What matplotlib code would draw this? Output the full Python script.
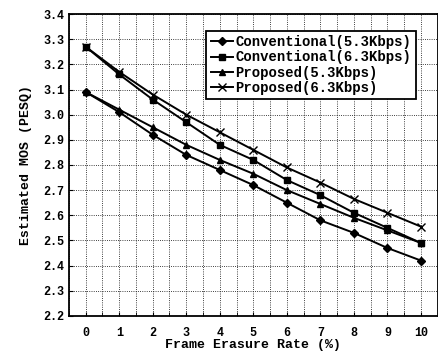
import numpy as np
import matplotlib
matplotlib.use("Agg")
import matplotlib.pyplot as plt
from matplotlib.ticker import MultipleLocator, FormatStrFormatter

# frame erasure rate (%)
fer = [0, 1, 2, 3, 4, 5, 6, 7, 8, 9, 10]

conv_53 = [3.09, 3.01, 2.92, 2.84, 2.78, 2.72, 2.65, 2.58, 2.53, 2.47, 2.42]
conv_63 = [3.27, 3.16, 3.06, 2.97, 2.88, 2.82, 2.74, 2.68, 2.61, 2.55, 2.49]
prop_53 = [3.09, 3.02, 2.95, 2.88, 2.82, 2.765, 2.70, 2.645, 2.59, 2.54, 2.49]
prop_63 = [3.27, 3.17, 3.08, 3.00, 2.93, 2.86, 2.79, 2.73, 2.665, 2.61, 2.555]

labels = ["Conventional(5.3Kbps)", "Conventional(6.3Kbps)",
          "Proposed(5.3Kbps)", "Proposed(6.3Kbps)"]

plt.rcParams['font.family'] = ['Liberation Mono', 'DejaVu Sans Mono']

fig = plt.figure(figsize=(4.39, 3.51), dpi=100)
ax = fig.add_axes([0.157, 0.100, 0.840, 0.860])

ax.plot(fer, conv_53, color='black', lw=1.4, marker='D', ms=4, label=labels[0])
ax.plot(fer, conv_63, color='black', lw=1.4, marker='s', ms=4.5, label=labels[1])
ax.plot(fer, prop_53, color='black', lw=1.4, marker='^', ms=4.5, label=labels[2])
ax.plot(fer, prop_63, color='black', lw=1.4, marker='x', ms=6, mew=1.0, label=labels[3])

ax.set_xlim(-0.5, 10.5)
ax.set_ylim(2.2, 3.4)
ax.xaxis.set_major_locator(MultipleLocator(1))
ax.xaxis.set_minor_locator(MultipleLocator(0.5))
ax.yaxis.set_major_locator(MultipleLocator(0.1))
ax.yaxis.set_major_formatter(FormatStrFormatter('%.1f'))

ax.grid(True, which='both', axis='x', color='black', ls=':', lw=0.6)
ax.grid(True, which='major', axis='y', color='black', ls=':', lw=0.6)
ax.tick_params(which='both', direction='in', length=3, labelsize=8.5)
ax.tick_params(axis='x', pad=8)
for lab in ax.get_xticklabels() + ax.get_yticklabels():
    lab.set_fontweight('bold')
for sp in ax.spines.values():
    sp.set_linewidth(1.3)

ax.set_xlabel('Frame Erasure Rate (%)', fontsize=9.5, fontweight='bold', labelpad=0)
ax.set_ylabel('Estimated MOS (PESQ)', fontsize=9.5, fontweight='bold', labelpad=8)

leg = ax.legend(loc='upper right', bbox_to_anchor=(0.94, 0.944), borderaxespad=0,
                fancybox=False, framealpha=1, edgecolor='black',
                prop={'size': 10, 'weight': 'bold'}, handlelength=1.6,
                handletextpad=0.2, labelspacing=0.1, borderpad=0.3)
leg.get_frame().set_linewidth(1.3)

fig.savefig('out.png', dpi=100)
